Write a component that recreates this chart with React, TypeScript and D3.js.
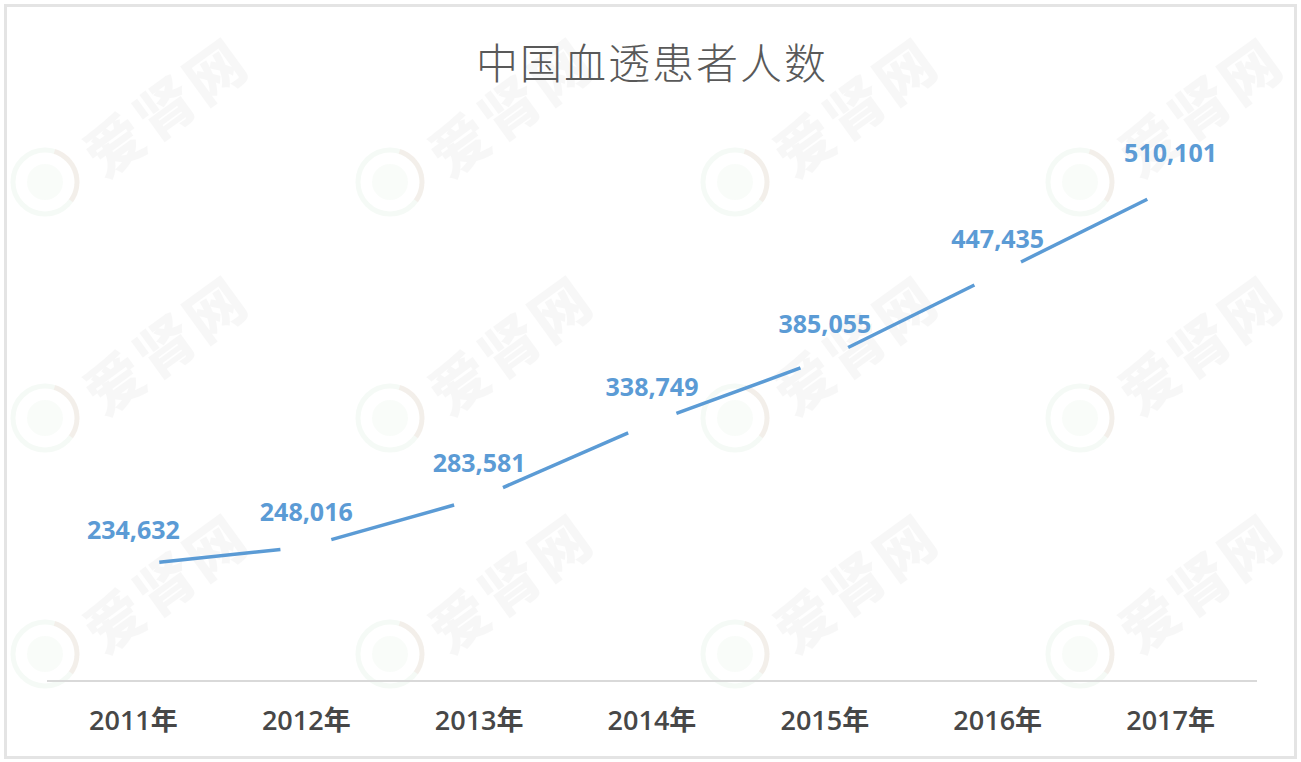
import React from "react";
import * as d3 from "d3";

const categories = ["2011年", "2012年", "2013年", "2014年", "2015年", "2016年", "2017年"];
const patients = [234632, 248016, 283581, 338749, 385055, 447435, 510101];
const yDomain = [150000, 550000];
const title = "中国血透患者人数";

const W = 1301;
const H = 762;
const plot = { left: 47, right: 1257, top: 133, bottom: 681 };
const blue = "#5b9bd5";

export default function App() {
  const x = d3.scaleBand<string>().domain(categories).range([plot.left, plot.right]).padding(0);
  const y = d3.scaleLinear().domain(yDomain).range([plot.bottom, plot.top]);
  const pts = patients.map((v, i) => [x(categories[i])! + x.bandwidth() / 2, y(v)] as [number, number]);
  const gap = 26;
  const segs = d3.pairs(pts).map(([a, b]) => {
    const dx = b[0] - a[0];
    const dy = b[1] - a[1];
    const len = Math.hypot(dx, dy);
    const ux = dx / len, uy = dy / len;
    return [[a[0] + ux * gap, a[1] + uy * gap], [b[0] - ux * gap, b[1] - uy * gap]] as [number, number][];
  });
  const line = d3.line();
  const fmt = d3.format(",");

  const wm: { tx: number; ty: number; cx: number; cy: number }[] = [];
  for (let i = 0; i < 4; i++) for (let j = 0; j < 3; j++) {
    wm.push({ tx: 170 + 345 * i, ty: 112 + 238 * j, cx: 45 + 345 * i, cy: 182 + 236 * j });
  }

  return (
    <svg width={W} height={H} style={{ position: "absolute", left: 0, top: 0, background: "#fff" }}>
      <rect x={0} y={0} width={W} height={H} fill="#fff" />
      <g>
        {wm.map((m, k) => (
          <g key={k}>
            <text x={m.tx} y={m.ty} transform={`rotate(-36 ${m.tx} ${m.ty})`} textAnchor="middle" dominantBaseline="middle"
              fontFamily="'Noto Sans CJK SC'" fontWeight={900} fontSize={58} fill="#000" opacity={0.028} letterSpacing={4}>爱肾网</text>
            <circle cx={m.cx} cy={m.cy} r={32} fill="none" stroke="#6cbf7c" strokeWidth={5} opacity={0.07} />
            <path d={d3.arc()({ innerRadius: 29.5, outerRadius: 34.5, startAngle: 0.3, endAngle: 2.2 })!} transform={`translate(${m.cx},${m.cy})`} fill="#e06a5a" opacity={0.07} />
            <circle cx={m.cx} cy={m.cy} r={18} fill="#6cbf7c" opacity={0.045} />
          </g>
        ))}
      </g>
      <rect x={5.5} y={5.5} width={1290} height={752} fill="none" stroke="#e4e4e4" strokeWidth={3} />
      <text x={652} y={79} textAnchor="middle" fontFamily="'Noto Sans CJK SC'" fontWeight={300} fontSize={42} fill="#595959" letterSpacing={2}>{title}</text>
      <line x1={plot.left} x2={plot.right} y1={plot.bottom} y2={plot.bottom} stroke="#d9d9d9" strokeWidth={2} />
      {categories.map((c) => (
        <text key={c} x={x(c)! + x.bandwidth() / 2} y={730} textAnchor="middle" fontFamily="'Open Sans', 'Noto Sans CJK SC'" fontWeight={600} fontSize={27} fill="#474747">{c}</text>
      ))}
      {segs.map((s, i) => (
        <path key={i} d={line(s)!} fill="none" stroke={blue} strokeWidth={3.5} strokeLinecap="butt" />
      ))}
      {pts.map((p, i) => (
        <text key={i} x={p[0]} y={p[1] - 26} textAnchor="middle" fontFamily="'Open Sans'" fontWeight={700} fontSize={25} fill={blue}>{fmt(patients[i])}</text>
      ))}
    </svg>
  );
}
